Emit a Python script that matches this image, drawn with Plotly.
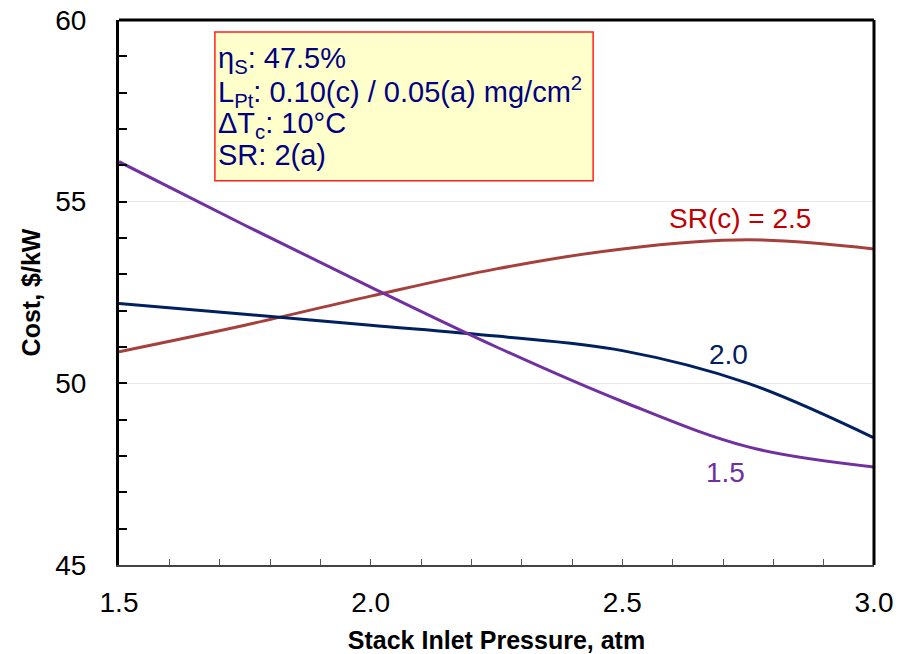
import plotly.graph_objects as go

pressure = [1.5, 1.75, 2.0, 2.25, 2.5, 2.75, 3.0]
cost_sr15 = [56.1, 54.35, 52.65, 51.0, 49.5, 48.25, 47.7]
cost_sr20 = [52.2, 51.9, 51.6, 51.3, 50.9, 50.0, 48.5]
cost_sr25 = [50.87, 51.6, 52.4, 53.15, 53.7, 53.95, 53.7]

x_ticks = [1.5, 2.0, 2.5, 3.0]
x_ticktext = ["1.5", "2.0", "2.5", "3.0"]
y_ticks = [45, 50, 55, 60]

box_lines = [
    "η<sub>S</sub>: 47.5%",
    "L<sub>Pt</sub>: 0.10(c) / 0.05(a) mg/cm<sup>2</sup>",
    "ΔT<sub>c</sub>: 10°C",
    "SR: 2(a)",
]

fig = go.Figure()
fig.add_trace(go.Scatter(x=pressure, y=cost_sr25, mode="lines",
                         line=dict(color="#A5403C", width=3, shape="spline", smoothing=1.0)))
fig.add_trace(go.Scatter(x=pressure, y=cost_sr20, mode="lines",
                         line=dict(color="#002060", width=3, shape="spline", smoothing=1.0)))
fig.add_trace(go.Scatter(x=pressure, y=cost_sr15, mode="lines",
                         line=dict(color="#7030A0", width=3, shape="spline", smoothing=1.0)))

font_family = "Liberation Sans, Arial, sans-serif"

fig.update_layout(
    width=906, height=654,
    margin=dict(l=119, r=32, t=20, b=89),
    paper_bgcolor="white", plot_bgcolor="white",
    showlegend=False,
    font=dict(family=font_family, color="black", size=24),
    xaxis=dict(
        range=[1.5, 3.0], tickvals=x_ticks, ticktext=x_ticktext,
        automargin=False,
        ticks="inside", ticklen=6, tickcolor="#555555", tickwidth=1,
        minor=dict(dtick=0.1, tick0=1.5, ticks="inside", ticklen=6, tickcolor="#555555", tickwidth=1, showgrid=False),
        showgrid=False, zeroline=False,
        showline=True, linecolor="#444444", linewidth=2,
        tickfont=dict(size=28, family=font_family),
        ticklabelstandoff=11,
        title=dict(text="<b>Stack Inlet Pressure, atm</b>", font=dict(size=25, family=font_family), standoff=15),
    ),
    yaxis=dict(
        range=[45, 60], tickvals=y_ticks,
        automargin=False,
        ticks="inside", ticklen=8, tickcolor="black", tickwidth=2,
        minor=dict(dtick=1, tick0=45, ticks="inside", ticklen=8, tickcolor="black", tickwidth=1.5, showgrid=False),
        showgrid=True, gridcolor="#E8E8E8", gridwidth=1,
        zeroline=False,
        showline=True, linecolor="black", linewidth=3,
        tickfont=dict(size=28, family=font_family),
        ticklabelstandoff=24,
        title=dict(text="<b>Cost, $/kW</b>", font=dict(size=25, family=font_family), standoff=8),
    ),
)

# frame: top and right borders
fig.add_shape(type="line", xref="paper", yref="paper", x0=0, x1=1, y0=1, y1=1,
              line=dict(color="black", width=3))
fig.add_shape(type="line", xref="paper", yref="paper", x0=1, x1=1, y0=0, y1=1,
              line=dict(color="black", width=3))

# info box
fig.add_shape(type="rect", xref="paper", yref="paper",
              x0=0.127, x1=0.628, y0=0.705, y1=0.978,
              fillcolor="#FFFFCC", line=dict(color="#FF2020", width=1.5))
line_y = [0.927, 0.868, 0.808, 0.752]
for txt, yy in zip(box_lines, line_y):
    fig.add_annotation(xref="paper", yref="paper", x=0.129, y=yy, text=txt,
                       showarrow=False, xanchor="left", yanchor="middle",
                       font=dict(size=29, color="#000080", family=font_family))

# series labels
fig.add_annotation(x=2.734, y=54.55, text="SR(c) = 2.5", showarrow=False,
                   font=dict(size=28, color="#C00000", family=font_family))
fig.add_annotation(x=2.71, y=50.8, text="2.0", showarrow=False,
                   font=dict(size=28, color="#002060", family=font_family))
fig.add_annotation(x=2.705, y=47.55, text="1.5", showarrow=False,
                   font=dict(size=28, color="#7030A0", family=font_family))

fig.write_html("out.html")
